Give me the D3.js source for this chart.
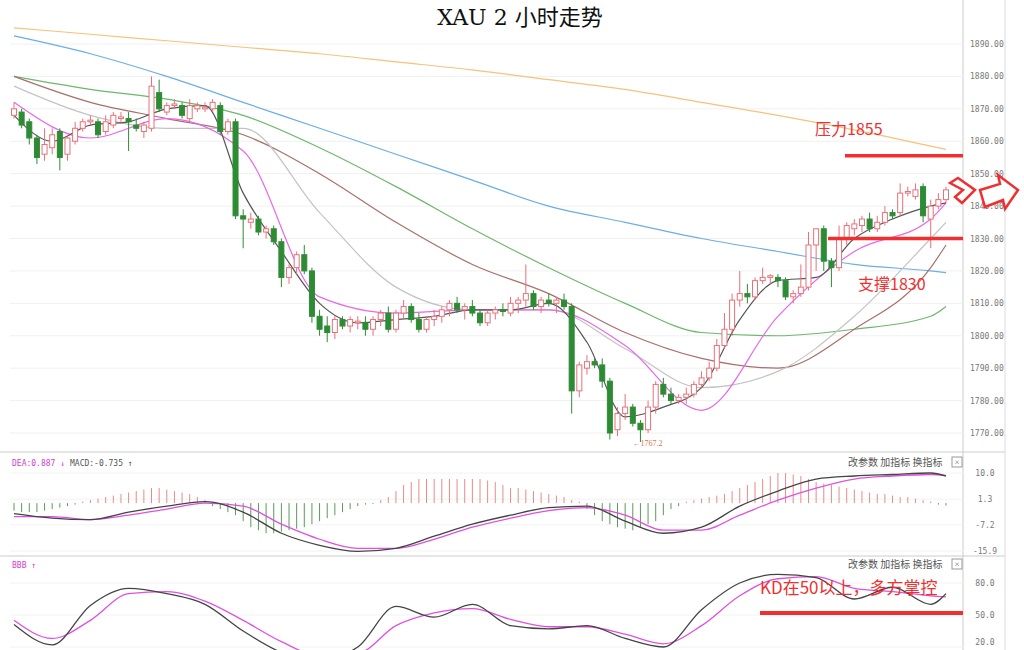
<!DOCTYPE html>
<html><head><meta charset="utf-8">
<script src="https://cdn.jsdelivr.net/npm/d3@7"></script>
<style>body{margin:0;background:#fff}svg{display:block}</style></head>
<body><svg id="c" width="1024" height="650"></svg>
<script>
// OHLC candles [open, high, low, close]
const candles = [
[1868,1872,1867,1870],[1869,1870,1864,1865],[1866,1867,1859,1861],[1861,1862,1853,1855],[1856,1864,1854,1859],
[1858,1864,1856,1862],[1863,1864,1851,1855],[1856,1862,1854,1861],[1860,1866,1859,1864],[1864,1867,1863,1866],
[1866,1868,1865,1866.5],[1866,1867,1861,1862],[1863,1868,1862,1866],[1865,1869,1864,1868],[1867,1869,1866,1867.5],
[1867,1869,1857,1866],[1865,1867,1863,1864],[1863,1866,1861,1865],[1864,1880,1863,1877],[1875,1879,1869,1870],
[1869,1872,1868,1871],[1871,1873,1870,1871.5],[1871,1872,1867,1868],[1867,1873,1866,1871],[1870,1872,1869,1871],
[1870,1872,1869,1870.5],[1870,1873,1869,1872],[1871,1872,1862,1863],[1863,1867,1862,1866],[1866,1867,1836,1837],
[1837,1839,1827,1836],[1835,1838,1833,1836],[1836,1837,1831,1832],[1832,1834,1830,1833],[1833,1834,1828,1829],
[1829,1830,1815,1818],[1818,1822,1816,1821],[1821,1826,1819,1825],[1825,1828,1819,1820],[1820,1821,1804,1806],
[1806,1808,1800,1802],[1803,1806,1798,1801],[1801,1806,1799,1805],[1805,1806,1802,1803],[1803,1806,1801,1805],
[1804,1806,1802,1804.5],[1804,1806,1800,1802],[1802,1806,1800,1805],[1805,1808,1803,1807],[1807,1809,1801,1802],
[1802,1808,1801,1807],[1807,1811,1805,1809],[1809,1810,1804,1805],[1805,1807,1801,1802],[1802,1806,1801,1805],
[1805,1808,1803,1806],[1806,1809,1804,1808],[1808,1811,1806,1810],[1810,1812,1807,1808],[1808,1810,1805,1809],
[1809,1811,1806,1807],[1807,1808,1803,1804],[1804,1808,1803,1807],[1807,1809,1805,1808],[1808,1810,1806,1807.5],
[1807,1812,1806,1810],[1810,1812,1807,1811],[1811,1822,1809,1813],[1813,1814,1808,1809],[1809,1812,1807,1811],
[1811,1813,1809,1810],[1810,1812,1807,1811],[1811,1813,1808,1809],[1809,1810,1776,1783],[1783,1792,1781,1791],
[1790,1794,1788,1792],[1792,1793,1790,1791],[1791,1793,1784,1786],[1786,1787,1768,1770],[1771,1778,1769,1776],
[1776,1782,1774,1778],[1778,1779,1772,1773],[1773,1774,1767.2,1771],[1771,1780,1770,1778],[1778,1786,1776,1785],
[1785,1787,1781,1782],[1782,1784,1779,1780],[1780,1782,1779,1781],[1781,1784,1779,1782],[1782,1786,1781,1785],
[1785,1789,1784,1787],[1787,1792,1786,1790],[1790,1799,1789,1797],[1797,1807,1796,1802],[1802,1813,1800,1811],
[1811,1820,1809,1813],[1813,1816,1810,1812],[1812,1818,1811,1817],[1817,1821,1816,1818],[1818,1819,1816,1818.5],
[1818,1819,1815,1817],[1817,1818,1811,1812],[1812,1814,1810,1813],[1813,1822,1812,1815],[1815,1832,1814,1828],
[1828,1833,1820,1833],[1833,1834,1820,1823],[1823,1824,1815,1821],[1821,1834,1820,1830],[1830,1835,1828,1834],
[1833,1836,1831,1834.5],[1834,1837,1832,1836],[1836,1838,1832,1833],[1833,1837,1832,1835],[1835,1840,1834,1838],
[1838,1839,1836,1837],[1838,1847,1837,1844],[1844,1846,1843,1844.5],[1843,1847,1842,1845],[1846,1847,1835,1837],
[1836,1842,1827,1840],[1840,1844,1839,1842],[1842,1846,1841,1845]];
// moving averages sampled at candle indexes
const maIdx10 = [0,10,20,30,40,50,60,70,80,90,100,110,120,122];
const maOrange = [1895,1893,1891,1889,1887,1884.5,1882,1879,1876,1872,1868,1863.5,1858.5,1857.5];
const maBlue   = [1892.5,1887,1880,1872,1864,1856,1848,1840,1835,1830,1826,1822,1820,1819.5];
const maGreen  = [1880,1876,1873,1868,1858,1846,1833,1821,1810,1801,1800,1802,1806,1809];
const maBrown  = [1880,1872,1867,1862,1850,1835,1822,1813,1801,1793,1790,1802,1821,1828];
const maGray   = [1877,1868,1864,1864,1838,1815,1808,1808,1796,1784,1789,1806,1830,1835];
const maPink   = [1872,1861,1867,1857,1812,1807,1808,1808,1797,1777,1806,1826,1836,1841];
const idx5 = [0,5,10,15,20,25,30,35,40,45,50,55,60,65,70,75,80,85,90,95,100,105,110,115,120,122];
const maBlack  = [1868,1860,1865,1866,1870,1871,1844,1826,1810,1804,1805,1806,1808,1808,1810,1798,1775,1778,1784,1805,1817,1818,1830,1836,1840,1841];
const priceTicks = [1890,1880,1870,1860,1850,1840,1830,1820,1810,1800,1790,1780,1770];
// MACD
const macdHist = [-2.5,-3,-3,-3,-2.5,-2,-1.5,-1,-0.5,
 0.5,1,1.5,2,2.5,3,3.5,4,4.5,5,5,4.5,4,3.5,3,2,1,
 -1,-2,-3,-4,-6,-8,-9,-10,-10,-9.5,-9,-8.5,-8,-7,-6,-5,-4,-3,-2,-1,-0.5,-0.3,
 1,2,4,6,7,8,8,8,8,8,8,8,8,8,7.5,7,6,5,5,4.5,4,3.5,3,2.5,2,1,0.5,
 -2,-4,-6,-7,-8,-8.5,-9,-8,-7,-6,-4,-2,-1,
 0.5,1,1.5,2,2.5,3,4,5,6,7,8,9,10,10,9.5,9,8,7,6.5,6,5.5,5,4.5,4,3.5,3,3,2.5,2,2,1.5,1,0.5,-0.5,-0.8];
const macdDIF = [-3.5,-5,-5.5,-3,-1,0.5,-3,-10,-14,-16,-15,-11,-7,-4,-1.5,-1,-6,-10,-8,-1,4,8,9,9.5,10,9];
const macdDEA = [-4.5,-4.5,-5.5,-4,-2,0,-1,-7,-12,-15,-15,-12,-8,-5,-2.5,-1.5,-4,-9,-9,-4,1,5,8,9,9.5,9.2];
const macdTicks = [10.0,1.3,-7.2,-15.9];
// KD
const kdK = [41,22,59,75,70,60,35,15,8,20,58,48,60,40,37,40,28,20,55,80,88,85,65,76,60,70];
const kdD = [45,28,45,70,72,63,45,25,12,14,40,52,56,46,39,39,32,23,40,68,84,86,75,72,68,67];
const kdTicks = [80.0,50.0,20.0];

const svg = d3.select("#c");
const F = "'Noto Sans CJK SC','Noto Sans',sans-serif";
const x = d3.scaleLinear().domain([0, candles.length-1]).range([14, 946]);
const y = d3.scaleLinear().domain([1770,1890]).range([433,44]);
const yM = d3.scaleLinear().domain([-15.9,10]).range([551,473]);
const yK = d3.scaleLinear().domain([20,80]).range([647,583]);

svg.append("line").attr("x1",963).attr("x2",963).attr("y1",0).attr("y2",650).attr("stroke","#ccc");
svg.append("line").attr("x1",1005).attr("x2",1005).attr("y1",0).attr("y2",650).attr("stroke","#ddd");
[452,556].forEach(v=>svg.append("line").attr("x1",0).attr("x2",1005).attr("y1",v).attr("y2",v).attr("stroke","#ccc"));
priceTicks.forEach(t=>{
  svg.append("line").attr("x1",10).attr("x2",963).attr("y1",y(t)).attr("y2",y(t)).attr("stroke","#f0f0f0");
  svg.append("text").attr("x",970).attr("y",y(t)+3).attr("font-size",8).attr("fill","#777").attr("font-family","DejaVu Sans Mono").text(t.toFixed(2));
});
macdTicks.forEach(t=>{
  svg.append("line").attr("x1",10).attr("x2",963).attr("y1",yM(t)).attr("y2",yM(t)).attr("stroke","#f2f2f2");
  svg.append("text").attr("x",985).attr("y",yM(t)+3).attr("font-size",8).attr("fill","#777").attr("text-anchor","middle").attr("font-family","DejaVu Sans Mono").text(t.toFixed(1));
});
kdTicks.forEach(t=>{
  svg.append("line").attr("x1",10).attr("x2",963).attr("y1",yK(t)).attr("y2",yK(t)).attr("stroke","#f2f2f2");
  svg.append("text").attr("x",985).attr("y",Math.min(yK(t)+3,645)).attr("font-size",8).attr("fill","#777").attr("text-anchor","middle").attr("font-family","DejaVu Sans Mono").text(t.toFixed(1));
});

const line = (xs, ys, sc) => d3.line().x((d,i)=>x(xs[i])).y(d=>sc(d)).curve(d3.curveMonotoneX)(ys);
[[maOrange,"#f7c27a"],[maBlue,"#6aaee6"],[maGreen,"#6cb86c"],[maBrown,"#a8706a"],[maGray,"#c4c4c4"],[maPink,"#e868e8"]]
 .forEach(([d,c])=>svg.append("path").attr("d",line(maIdx10,d,y)).attr("fill","none").attr("stroke",c).attr("stroke-width",1.2));
svg.append("path").attr("d",line(idx5,maBlack,y)).attr("fill","none").attr("stroke","#555").attr("stroke-width",1.2);

const up="#e8707a", dn="#2e8b35", w=5;
candles.forEach((c,i)=>{
  const [o,h,l,cl]=c, isUp=cl>=o, col=isUp?up:dn, cx=x(i);
  const top=y(Math.max(o,cl)), bot=y(Math.min(o,cl));
  svg.append("line").attr("x1",cx).attr("x2",cx).attr("y1",y(h)).attr("y2",top).attr("stroke",col);
  svg.append("line").attr("x1",cx).attr("x2",cx).attr("y1",bot).attr("y2",y(l)).attr("stroke",col);
  svg.append("rect").attr("x",cx-w/2).attr("y",top).attr("width",w).attr("height",Math.max(1,bot-top))
    .attr("fill",isUp?"#fff":dn).attr("stroke",col);
});
svg.append("text").attr("x",x(82)-8).attr("y",y(1767.2)+4).attr("font-size",8).attr("fill","#e07050").text("←1767.2");

macdHist.forEach((v,i)=>svg.append("line").attr("x1",x(i)).attr("x2",x(i)).attr("y1",yM(0)).attr("y2",yM(v))
  .attr("stroke",v>=0?"#e88a8a":"#5a9a5a").attr("stroke-width",1));
svg.append("path").attr("d",line(idx5,macdDEA,yM)).attr("fill","none").attr("stroke","#e050e0").attr("stroke-width",1.3);
svg.append("path").attr("d",line(idx5,macdDIF,yM)).attr("fill","none").attr("stroke","#444").attr("stroke-width",1.3);
svg.append("path").attr("d",line(idx5,kdD,yK)).attr("fill","none").attr("stroke","#e050e0").attr("stroke-width",1.3);
svg.append("path").attr("d",line(idx5,kdK,yK)).attr("fill","none").attr("stroke","#444").attr("stroke-width",1.3);

svg.append("text").attr("x",12).attr("y",466).attr("font-size",8).attr("font-family","DejaVu Sans Mono").attr("fill","#d040d0").text("DEA:0.887 ↓");
svg.append("text").attr("x",70).attr("y",466).attr("font-size",8).attr("font-family","DejaVu Sans Mono").attr("fill","#555").text("MACD:-0.735 ↑");
svg.append("text").attr("x",12).attr("y",568).attr("font-size",8).attr("font-family","DejaVu Sans Mono").attr("fill","#d040d0").text("BBB ↑");
[466,568].forEach(yy=>{
  svg.append("text").attr("x",848).attr("y",yy).attr("font-size",10).attr("font-family",F).attr("fill","#555").text("改参数  加指标  换指标");
  svg.append("rect").attr("x",952).attr("y",yy-9).attr("width",10).attr("height",10).attr("fill","none").attr("stroke","#999");
  svg.append("text").attr("x",957).attr("y",yy-1).attr("font-size",9).attr("text-anchor","middle").attr("fill","#777").text("×");
});

svg.append("text").attr("x",520).attr("y",25).attr("text-anchor","middle").attr("font-size",22).attr("font-family","'DejaVu Serif','Noto Sans CJK SC',serif").attr("fill","#111").text("XAU 2 小时走势");

const red="#f03030";
svg.append("text").attr("x",815).attr("y",135).attr("font-size",16).attr("font-family",F).attr("fill",red).text("压力1855");
svg.append("line").attr("x1",845).attr("x2",963).attr("y1",y(1855.5)).attr("y2",y(1855.5)).attr("stroke",red).attr("stroke-width",3.5);
svg.append("text").attr("x",858).attr("y",290).attr("font-size",16).attr("font-family",F).attr("fill",red).text("支撑1830");
svg.append("line").attr("x1",828).attr("x2",963).attr("y1",y(1830)).attr("y2",y(1830)).attr("stroke",red).attr("stroke-width",3.5);
svg.append("text").attr("x",760).attr("y",594).attr("font-size",17).attr("font-family",F).attr("fill",red).text("KD在50以上，多方掌控");
svg.append("line").attr("x1",760).attr("x2",963).attr("y1",yK(50)-2).attr("y2",yK(50)-2).attr("stroke",red).attr("stroke-width",4);
svg.append("path").attr("d","M950,183 L958,178 L975,190 L962,203 L955,197 L963,190 Z").attr("fill","#fff").attr("stroke",red).attr("stroke-width",2.5);
svg.append("path").attr("d","M980,190 L1000,184 L998,175 L1018,190 L1005,209 L1003,200 L985,207 Z").attr("fill","#fff").attr("stroke",red).attr("stroke-width",2.5);
</script></body></html>
